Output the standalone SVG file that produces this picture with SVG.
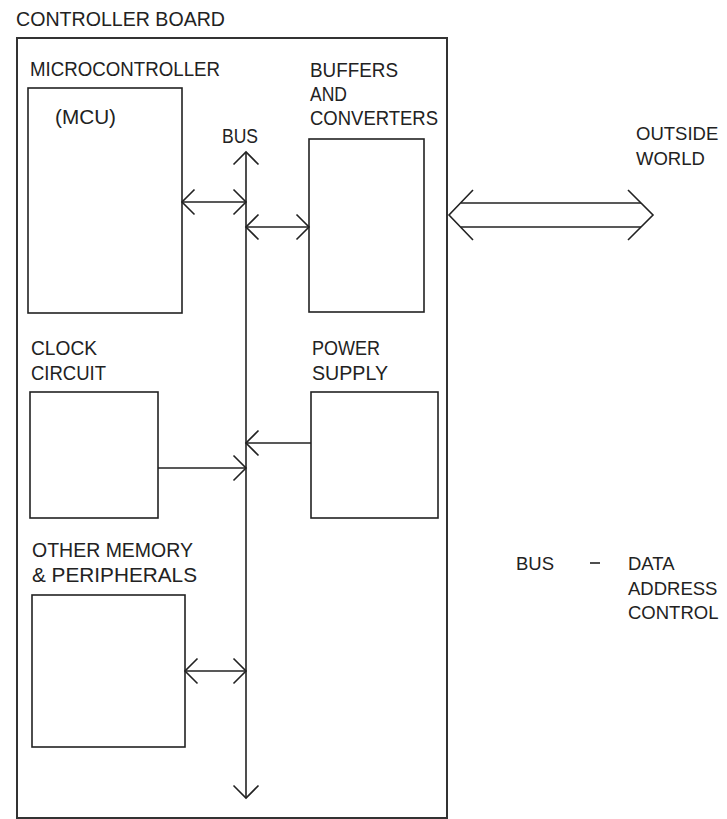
<svg xmlns="http://www.w3.org/2000/svg" width="727" height="819" viewBox="0 0 727 819">
<style>
  .box { fill: none; stroke: #222; stroke-width: 1.6; }
  .board { fill: none; stroke: #333; stroke-width: 2; }
  .ln { fill: none; stroke: #222; stroke-width: 1.6; }
  text { font-family: "Liberation Sans", Arial, sans-serif; font-size: 21px; fill: #222; }
  .edge { font-size: 18.5px; }
</style>
<defs>
  <marker id="chev" markerUnits="userSpaceOnUse" viewBox="-14 -14 16 28" refX="0" refY="0" markerWidth="16" markerHeight="28" orient="auto-start-reverse" overflow="visible">
    <path d="M -12.5 -12.5 L 0 0 L -12.5 12.5" fill="none" stroke="#222" stroke-width="1.6"/>
  </marker>
</defs>
<rect width="727" height="819" fill="#fff"/>

<g id="board">
  <text x="16" y="26" textLength="209" lengthAdjust="spacingAndGlyphs">CONTROLLER BOARD</text>
  <rect class="board" x="17" y="38" width="430" height="780"/>
</g>

<g id="mcu">
  <text x="30" y="76" textLength="190" lengthAdjust="spacingAndGlyphs">MICROCONTROLLER</text>
  <rect class="box" x="28" y="88" width="154" height="225"/>
  <text x="55" y="124" textLength="61" lengthAdjust="spacingAndGlyphs">(MCU)</text>
</g>

<g id="buffers">
  <text x="310" y="77" textLength="88" lengthAdjust="spacingAndGlyphs">BUFFERS</text>
  <text x="310" y="101" textLength="37" lengthAdjust="spacingAndGlyphs">AND</text>
  <text x="310" y="125" textLength="128" lengthAdjust="spacingAndGlyphs">CONVERTERS</text>
  <rect class="box" x="309" y="139" width="115" height="173"/>
</g>

<g id="bus-label">
  <text x="222" y="143" textLength="36" lengthAdjust="spacingAndGlyphs">BUS</text>
</g>

<g id="outside">
  <text class="edge" x="636" y="140">OUTSIDE</text>
  <text class="edge" x="636" y="165">WORLD</text>
</g>

<g id="clock">
  <text x="31" y="355" textLength="66" lengthAdjust="spacingAndGlyphs">CLOCK</text>
  <text x="31" y="380" textLength="75" lengthAdjust="spacingAndGlyphs">CIRCUIT</text>
  <rect class="box" x="30" y="392" width="128" height="126"/>
</g>

<g id="power">
  <text x="312" y="355" textLength="68" lengthAdjust="spacingAndGlyphs">POWER</text>
  <text x="312" y="380" textLength="76" lengthAdjust="spacingAndGlyphs">SUPPLY</text>
  <rect class="box" x="311" y="392" width="127" height="126"/>
</g>

<g id="memory">
  <text x="32" y="557" textLength="161" lengthAdjust="spacingAndGlyphs">OTHER MEMORY</text>
  <text x="32" y="582" textLength="165" lengthAdjust="spacingAndGlyphs">&amp; PERIPHERALS</text>
  <rect class="box" x="32" y="595" width="153" height="152"/>
</g>

<g id="legend">
  <text class="edge" x="516" y="570">BUS</text>
  <line class="ln" x1="590" y1="563" x2="600" y2="563"/>
  <text class="edge" x="628" y="570">DATA</text>
  <text class="edge" x="628" y="595">ADDRESS</text>
  <text class="edge" x="628" y="619">CONTROL</text>
</g>

<g id="connectors">
  <line class="ln" x1="246" y1="798" x2="246" y2="152" marker-start="url(#chev)" marker-end="url(#chev)"/>
  <line class="ln" x1="182" y1="202" x2="246" y2="202" marker-start="url(#chev)" marker-end="url(#chev)"/>
  <line class="ln" x1="246" y1="227" x2="309" y2="227" marker-start="url(#chev)" marker-end="url(#chev)"/>
  <line class="ln" x1="158" y1="468" x2="246" y2="468" marker-end="url(#chev)"/>
  <line class="ln" x1="311" y1="443" x2="246" y2="443" marker-end="url(#chev)"/>
  <line class="ln" x1="185" y1="671" x2="246" y2="671" marker-start="url(#chev)" marker-end="url(#chev)"/>
  <polyline class="ln" points="473,190 449,215 473,240"/>
  <polyline class="ln" points="628,190 653,215 628,240"/>
  <line class="ln" x1="461" y1="203" x2="641" y2="203"/>
  <line class="ln" x1="461" y1="227" x2="641" y2="227"/>
</g>
</svg>
